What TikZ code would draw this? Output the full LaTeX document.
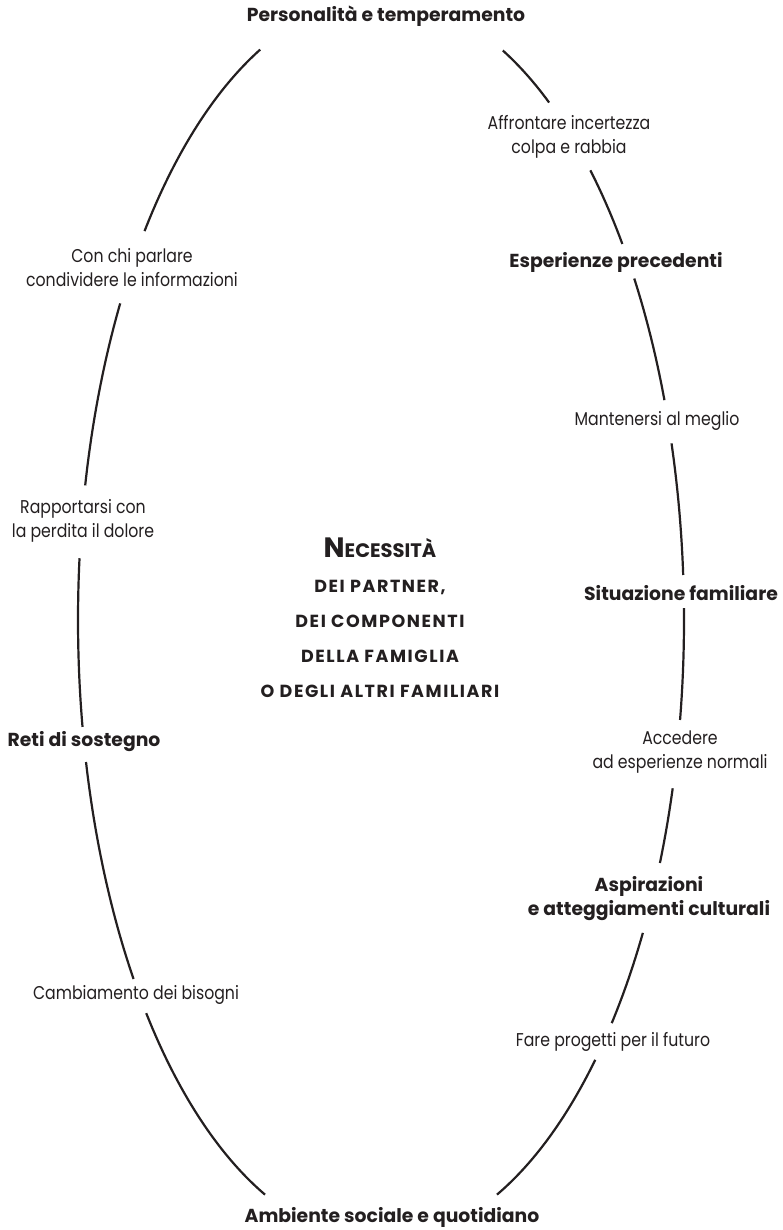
\documentclass[tikz,border=0pt]{standalone}
\usepackage{fontspec}
\setmainfont{Poppins}
\newfontfamily\regfont[FakeStretch=0.85]{Poppins}
\newfontfamily\boldfont{Poppins Bold}
\newfontfamily\capsfont[LetterSpace=9]{Poppins Bold}
\definecolor{ink}{HTML}{231F20}
\tikzset{
  ring/.style={line width=2.2pt, draw=ink},
  reglabel/.style={align=center, text=ink, font=\regfont\fontsize{18.5}{24}\selectfont, inner sep=0pt},
  boldlabel/.style={align=center, text=ink, font=\boldfont\fontsize{18.8}{24}\selectfont, inner sep=0pt},
  centerlabel/.style={align=center, text=ink, font=\capsfont\fontsize{17.5}{35}\selectfont, inner sep=0pt}
}
\newcommand{\ringarc}[2]{\draw[ring] plot[domain=#1:#2, samples=60, smooth] ({381+303*cos(\x)},{620-622*sin(\x)});}
\begin{document}
\begin{tikzpicture}[x=1pt,y=-1pt]
\useasboundingbox (0,0) rectangle (783,1230);
% ellipse segments, right side
\ringarc{66.3}{56.3}
\ringarc{46.3}{37.2}
\ringarc{33.3}{20.7}
\ringarc{16.5}{4.15}
\ringarc{1.1}{-9.25}
\ringarc{-15.7}{-23.0}
\ringarc{-30.2}{-40.4}
\ringarc{-45.0}{-67.5}
% left side
\ringarc{113.5}{141.3}
\ringarc{149.4}{167.5}
\ringarc{174.3}{189.9}
\ringarc{193.2}{215.25}
\ringarc{219.2}{247.5}
% labels
\node[boldlabel] (pers) at (386,16) {Personalità e temperamento};
\node[reglabel] (affr) at (569,137) {Affrontare incertezza\\colpa e rabbia};
\node[reglabel] (conchi) at (132,268) {Con chi parlare\\condividere le informazioni};
\node[boldlabel] (esp) at (616,262) {Esperienze precedenti};
\node[reglabel] (mant) at (657,421) {Mantenersi al meglio};
\node[reglabel] (rapp) at (83,521) {Rapportarsi con\\la perdita il dolore};
\node[boldlabel] (sit) at (681,593) {Situazione familiare};
\node[reglabel] (acc) at (680,752) {Accedere\\ad esperienze normali};
\node[boldlabel] (reti) at (84,742) {Reti di sostegno};
\node[boldlabel] (asp) at (649,899) {Aspirazioni\\e atteggiamenti culturali};
\node[reglabel] (camb) at (136,995) {Cambiamento dei bisogni};
\node[reglabel] (fare) at (613,1042) {Fare progetti per il futuro};
\node[boldlabel] (amb) at (392,1217) {Ambiente sociale e quotidiano};
\node[centerlabel] (nec) at (380,618) {{\boldfont\fontsize{28}{35}\selectfont N\fontsize{19.5}{35}\selectfont ECESSITÀ}\\DEI PARTNER,\\DEI COMPONENTI\\DELLA FAMIGLIA\\O DEGLI ALTRI FAMILIARI};
\end{tikzpicture}
\end{document}
